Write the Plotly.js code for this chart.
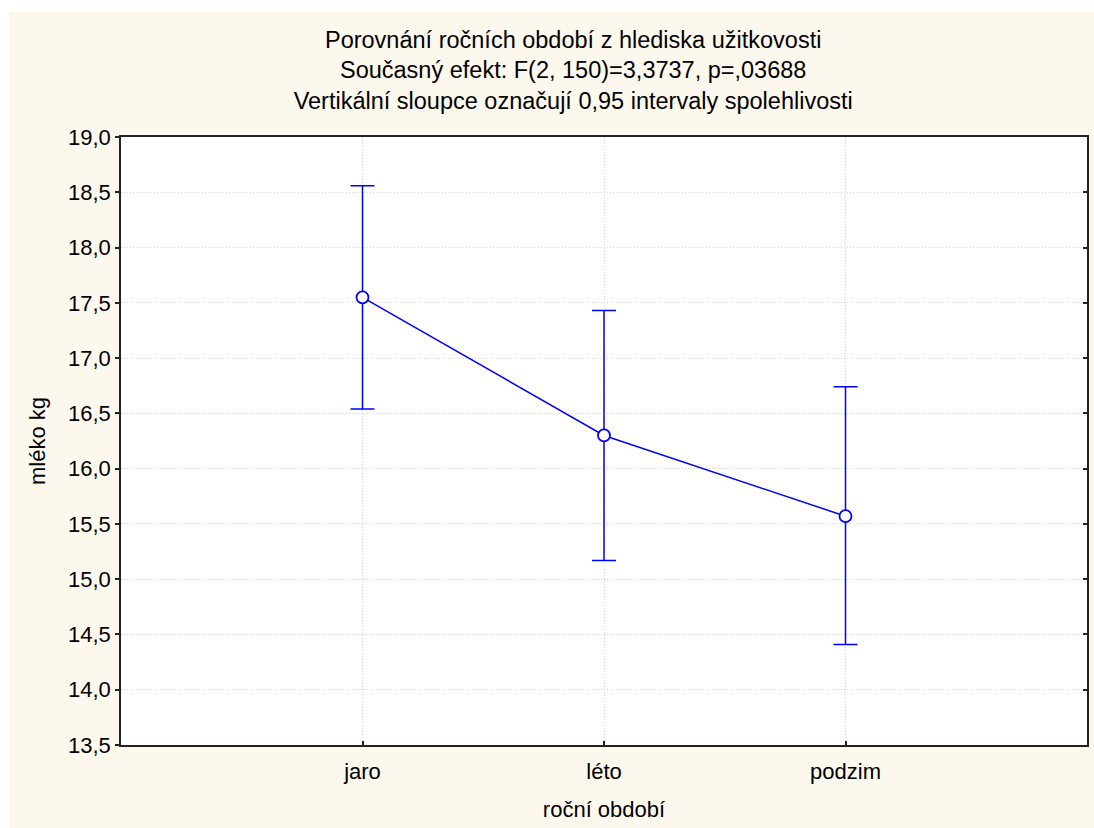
<!DOCTYPE html>
<html>
<head>
<meta charset="utf-8">
<script src="https://cdn.plot.ly/plotly-3.0.1.min.js"></script>
<style>
  html, body { margin: 0; padding: 0; background: #ffffff; }
  #chart { position: absolute; left: 9px; top: 12px; width: 1085px; height: 816px; }
</style>
</head>
<body>
<div id="chart"></div>
<script>
// Data
const categories = ['jaro', 'léto', 'podzim'];
const means = [17.55, 16.30, 15.57];
const upperCI = [18.56, 17.43, 16.74];
const lowerCI = [16.54, 15.17, 14.41];
const yTickValues = [13.5, 14.0, 14.5, 15.0, 15.5, 16.0, 16.5, 17.0, 17.5, 18.0, 18.5, 19.0];

const titleLines = [
  'Porovnání ročních období z hlediska užitkovosti',
  'Současný efekt: F(2, 150)=3,3737, p=,03688',
  'Vertikální sloupce označují 0,95 intervaly spolehlivosti'
];
const xTitle = 'roční období';
const yTitle = 'mléko kg';

const blue = '#0000ff';
const fontFamily = '"Liberation Sans", Arial, sans-serif';

const errPlus = upperCI.map((u, i) => u - means[i]);
const errMinus = lowerCI.map((l, i) => means[i] - l);

const mainTrace = {
  x: categories,
  y: means,
  type: 'scatter',
  mode: 'lines+markers',
  line: { color: blue, width: 1.5 },
  marker: { symbol: 'circle', size: 12, color: '#ffffff', line: { color: blue, width: 1.8 } },
  error_y: {
    type: 'data',
    symmetric: false,
    array: errPlus,
    arrayminus: errMinus,
    color: blue,
    thickness: 1.5,
    width: 12
  },
  hoverinfo: 'x+y',
  showlegend: false
};

const mirrorTrace = {
  x: categories,
  y: means,
  type: 'scatter',
  mode: 'none',
  yaxis: 'y2',
  hoverinfo: 'skip',
  showlegend: false
};

const gridColor = '#d4d4d4';
const gridDash = '1px,2px';

const layout = {
  width: 1085,
  height: 816,
  paper_bgcolor: '#fdf8ee',
  plot_bgcolor: '#ffffff',
  separators: ', ',
  margin: { l: 112, r: 7, t: 125, b: 83 },
  font: { family: fontFamily, size: 22, color: '#000000' },
  title: {
    text: titleLines.join('<br>'),
    font: { family: fontFamily, size: 23.5, color: '#000000' },
    x: 0.52,
    xref: 'container',
    xanchor: 'center',
    y: 0.956,
    yref: 'container',
    yanchor: 'top'
  },
  xaxis: {
    type: 'category',
    range: [-1, 3],
    showline: true,
    linecolor: '#222222',
    linewidth: 1.5,
    mirror: true,
    ticks: 'inside',
    ticklen: 4,
    tickwidth: 1.5,
    tickcolor: '#222222',
    ticklabelstandoff: 6,
    showgrid: true,
    gridcolor: gridColor,
    griddash: gridDash,
    gridwidth: 1,
    zeroline: false,
    tickfont: { family: fontFamily, size: 22, color: '#000000' },
    title: { text: xTitle, font: { family: fontFamily, size: 22, color: '#000000' }, standoff: 18 }
  },
  yaxis: {
    range: [13.5, 19.0],
    tickvals: yTickValues,
    tickformat: '.1f',
    showline: true,
    linecolor: '#222222',
    linewidth: 1.5,
    mirror: true,
    ticks: 'outside',
    ticklen: 4,
    tickwidth: 1.5,
    tickcolor: '#222222',
    showgrid: true,
    gridcolor: gridColor,
    griddash: gridDash,
    gridwidth: 1,
    zeroline: false,
    tickfont: { family: fontFamily, size: 22, color: '#000000' },
    title: { text: yTitle, font: { family: fontFamily, size: 22, color: '#000000' }, standoff: 16 }
  },
  yaxis2: {
    overlaying: 'y',
    side: 'right',
    range: [13.5, 19.0],
    tickvals: yTickValues,
    showticklabels: false,
    ticks: 'inside',
    ticklen: 4,
    tickwidth: 1.5,
    tickcolor: '#222222',
    showgrid: false,
    zeroline: false,
    showline: false
  }
};

Plotly.newPlot('chart', [mainTrace, mirrorTrace], layout, { displayModeBar: false, responsive: false });
</script>
</body>
</html>
